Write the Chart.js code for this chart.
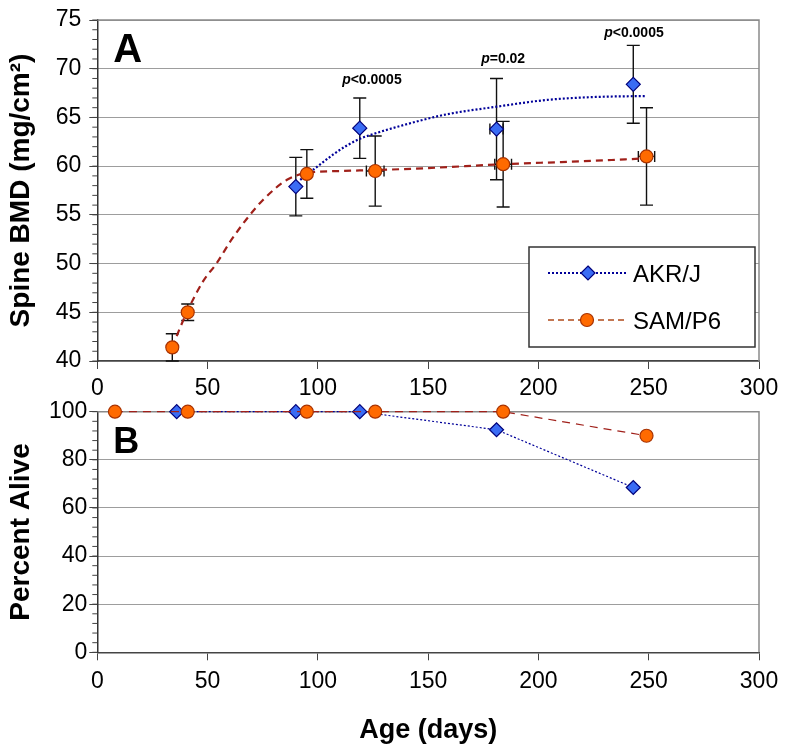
<!DOCTYPE html>
<html><head><meta charset="utf-8">
<script src="https://cdn.jsdelivr.net/npm/chart.js@4/dist/chart.umd.min.js"></script>
<style>
html,body{margin:0;padding:0;background:#fff;}
#cA{position:absolute;left:0;top:0;}
#cB{position:absolute;left:0;top:398px;}
</style></head><body>
<canvas id="cA" width="787" height="400" style="width:787px;height:400px"></canvas>
<canvas id="cB" width="787" height="352" style="width:787px;height:352px"></canvas>
<script>
// ---------- Panel A data ----------
const akrAgeA = [90, 119, 181, 243];
const akrBmd = [57.9, 63.9, 63.8, 68.4];
const akrBmdErr = [3.0, 3.1, 5.2, 4.0];
const akrAgeErr = [0, 0, 3, 0];
const samAgeA = [34, 41, 95, 126, 184, 249];
const samBmd = [41.4, 45.0, 59.2, 59.5, 60.2, 61.0];
const samBmdErr = [1.4, 0.85, 2.5, 3.6, 4.4, 5.0];
const samAgeErr = [0, 0, 0, 4, 3.8, 3.7];
const akrTrendAge = [92, 100, 107, 113, 119, 128, 137, 158, 181, 204, 226, 249];
const akrTrendBmd = [58.6, 60.0, 61.2, 62.1, 62.8, 63.5, 64.1, 65.3, 66.1, 66.8, 67.1, 67.2];
const samTrendAge = [34, 37.5, 41, 48, 54, 61, 68.5, 75, 86, 95, 110, 126, 150, 184, 220, 249];
const samTrendBmd = [41.4, 43.4, 45.2, 48.2, 50.0, 52.5, 54.8, 56.5, 58.6, 59.3, 59.5, 59.6, 59.8, 60.2, 60.5, 60.8];
const bmdTicks = [40, 45, 50, 55, 60, 65, 70, 75];
const pTexts = ["<0.0005", "=0.02", "<0.0005"];
const pAge = [124.5, 184, 243.3];
const pBmd = [68.8, 71.0, 73.7];
// ---------- Panel B data ----------
const akrAgeB = [36, 90, 119, 181, 243];
const akrAlive = [100, 100, 100, 92.5, 68.5];
const samAgeB = [8, 41, 95, 126, 184, 249];
const samAlive = [100, 100, 100, 100, 100, 90];
const aliveTicks = [0, 20, 40, 60, 80, 100];
const ageTicks = [0, 50, 100, 150, 200, 250, 300];
const seriesNames = ["AKR/J", "SAM/P6"];

const FONT = "'Liberation Sans', Arial, sans-serif";
const BLUE_LINE = '#000099', BLUE_FILL = '#3a6cf4', BLUE_EDGE = '#00007a';
const ORG_FILL = '#ff6a00', ORG_EDGE = '#a83200', RED_LINE = '#a0201a', ORG_LINE = '#b04a1a';

const pts = (xs, ys) => xs.map((x, i) => ({x: x, y: ys[i]}));

function drawDiamond(ctx, x, y, r) {
  ctx.beginPath();
  ctx.moveTo(x, y - r); ctx.lineTo(x + r, y); ctx.lineTo(x, y + r); ctx.lineTo(x - r, y); ctx.closePath();
  ctx.fillStyle = BLUE_FILL; ctx.fill();
  ctx.lineWidth = 1.2; ctx.strokeStyle = BLUE_EDGE; ctx.setLineDash([]); ctx.stroke();
}
function drawCircle(ctx, x, y, r) {
  ctx.beginPath(); ctx.arc(x, y, r, 0, Math.PI * 2);
  ctx.fillStyle = ORG_FILL; ctx.fill();
  ctx.lineWidth = 1.2; ctx.strokeStyle = ORG_EDGE; ctx.setLineDash([]); ctx.stroke();
}

function frameAndMinor(chart, minorStep) {
  const {ctx, chartArea: a, scales: {y}} = chart;
  ctx.save();
  ctx.setLineDash([]);
  ctx.strokeStyle = '#8a8a8a'; ctx.lineWidth = 1.5;
  ctx.beginPath(); ctx.moveTo(a.left, a.top); ctx.lineTo(a.right, a.top); ctx.lineTo(a.right, a.bottom); ctx.stroke();
  ctx.strokeStyle = '#444'; ctx.lineWidth = 1;
  for (let v = y.min; v <= y.max; v += minorStep) {
    const py = y.getPixelForValue(v);
    ctx.beginPath(); ctx.moveTo(a.left - 5, py); ctx.lineTo(a.left, py); ctx.stroke();
  }
  ctx.restore();
}

function errorBars(chart, xs, ys, yerr, xerr) {
  const {ctx, scales: {x, y}} = chart;
  ctx.save(); ctx.setLineDash([]); ctx.strokeStyle = '#111'; ctx.lineWidth = 1.4;
  for (let i = 0; i < xs.length; i++) {
    const px = x.getPixelForValue(xs[i]);
    if (yerr[i] > 0) {
      const t = y.getPixelForValue(ys[i] + yerr[i]), b = y.getPixelForValue(ys[i] - yerr[i]);
      ctx.beginPath();
      ctx.moveTo(px, t); ctx.lineTo(px, b);
      ctx.moveTo(px - 6.5, t); ctx.lineTo(px + 6.5, t);
      ctx.moveTo(px - 6.5, b); ctx.lineTo(px + 6.5, b);
      ctx.stroke();
    }
    if (xerr[i] > 0) {
      const py = y.getPixelForValue(ys[i]);
      const l = x.getPixelForValue(xs[i] - xerr[i]), r = x.getPixelForValue(xs[i] + xerr[i]);
      ctx.beginPath();
      ctx.moveTo(l, py); ctx.lineTo(r, py);
      ctx.moveTo(l, py - 5.5); ctx.lineTo(l, py + 5.5);
      ctx.moveTo(r, py - 5.5); ctx.lineTo(r, py + 5.5);
      ctx.stroke();
    }
  }
  ctx.restore();
}

const decorA = {
  id: 'decorA',
  beforeDatasetsDraw(chart) {
    frameAndMinor(chart, 1);
    errorBars(chart, akrAgeA, akrBmd, akrBmdErr, akrAgeErr);
    errorBars(chart, samAgeA, samBmd, samBmdErr, samAgeErr);
  },
  afterDatasetsDraw(chart) {
    const {ctx, chartArea: a, scales: {x, y}} = chart;
    ctx.save();
    ctx.fillStyle = '#000'; ctx.textBaseline = 'alphabetic'; ctx.textAlign = 'left';
    ctx.font = 'bold 40px ' + FONT;
    ctx.fillText('A', a.left + 16, a.top + 42);
    for (let i = 0; i < pTexts.length; i++) {
      const cx = x.getPixelForValue(pAge[i]), cy = y.getPixelForValue(pBmd[i]);
      ctx.font = 'italic bold 14px ' + FONT; const w1 = ctx.measureText('p').width;
      ctx.font = 'bold 14px ' + FONT; const w2 = ctx.measureText(pTexts[i]).width;
      const sx = cx - (w1 + w2) / 2;
      ctx.textBaseline = 'middle';
      ctx.font = 'italic bold 14px ' + FONT; ctx.fillText('p', sx, cy);
      ctx.font = 'bold 14px ' + FONT; ctx.fillText(pTexts[i], sx + w1, cy);
    }
    const lx = a.right - 230, ly = a.top + 227, lw = 226, lh = 100;
    ctx.fillStyle = '#fff'; ctx.fillRect(lx, ly, lw, lh);
    ctx.strokeStyle = '#333'; ctx.lineWidth = 1.5; ctx.setLineDash([]); ctx.strokeRect(lx, ly, lw, lh);
    const r1 = ly + 26, r2 = ly + 73;
    ctx.lineWidth = 2; ctx.strokeStyle = BLUE_LINE; ctx.setLineDash([2, 2]);
    ctx.beginPath(); ctx.moveTo(lx + 19, r1); ctx.lineTo(lx + 98, r1); ctx.stroke();
    drawDiamond(ctx, lx + 59, r1, 7);
    ctx.lineWidth = 1.6; ctx.strokeStyle = ORG_LINE; ctx.setLineDash([6, 4]);
    ctx.beginPath(); ctx.moveTo(lx + 19, r2); ctx.lineTo(lx + 98, r2); ctx.stroke();
    drawCircle(ctx, lx + 58, r2, 6.5);
    ctx.fillStyle = '#000'; ctx.font = '24px ' + FONT; ctx.textBaseline = 'middle'; ctx.textAlign = 'left';
    ctx.fillText(seriesNames[0], lx + 104, r1 + 2);
    ctx.fillText(seriesNames[1], lx + 104, r2 + 2);
    ctx.restore();
  }
};

const decorB = {
  id: 'decorB',
  beforeDatasetsDraw(chart) { frameAndMinor(chart, 4); },
  afterDatasetsDraw(chart) {
    const {ctx, chartArea: a} = chart;
    ctx.save();
    ctx.fillStyle = '#000'; ctx.textBaseline = 'alphabetic'; ctx.textAlign = 'left';
    ctx.font = 'bold 36px ' + FONT;
    ctx.fillText('B', a.left + 16, a.top + 41);
    ctx.restore();
  }
};

function xScale(height, pad, withTitle) {
  return {
    type: 'linear', min: 0, max: 300, position: 'bottom',
    afterBuildTicks: s => { s.ticks = ageTicks.map(v => ({value: v})); },
    ticks: {font: {size: 23, family: FONT}, color: '#000', padding: pad, maxRotation: 0, autoSkip: false},
    grid: {drawOnChartArea: false, drawTicks: true, tickLength: 8, tickColor: '#444', tickWidth: 1},
    border: {color: '#444', width: 1.5},
    title: withTitle ? {display: true, text: 'Age (days)', color: '#000', font: {size: 27, weight: 'bold', family: FONT}, padding: {top: 0, bottom: 0}} : {display: false},
    afterFit: s => { s.height = height; }
  };
}
function yScale(min, max, tickVals, pad, title) {
  return {
    type: 'linear', min: min, max: max,
    afterBuildTicks: s => { s.ticks = tickVals.map(v => ({value: v})); },
    ticks: {font: {size: 23, family: FONT, lineHeight: 1}, color: '#000', padding: pad},
    grid: {color: '#3a3a3a', lineWidth: 1, drawTicks: true, tickLength: 8, tickColor: '#444'},
    border: {color: '#333', width: 1.5, dash: [1, 1]},
    title: {display: true, text: title, color: '#000', font: {size: 28, weight: 'bold', family: FONT}, padding: {top: 4, bottom: 0}},
    afterFit: s => { s.width = 97.3; }
  };
}

new Chart(document.getElementById('cA'), {
  type: 'scatter',
  data: {datasets: [
    {label: seriesNames[1], data: pts(samAgeA, samBmd), showLine: false, pointStyle: 'circle', pointRadius: 6.5,
     backgroundColor: ORG_FILL, borderColor: ORG_EDGE, borderWidth: 1.2},
    {label: seriesNames[0], data: pts(akrAgeA, akrBmd), showLine: false, pointStyle: 'rectRot', pointRadius: 7,
     backgroundColor: BLUE_FILL, borderColor: BLUE_EDGE, borderWidth: 1.2},
    {label: 'SAM trend', data: pts(samTrendAge, samTrendBmd), showLine: true, pointRadius: 0, borderColor: RED_LINE,
     borderWidth: 2.2, borderDash: [7, 5], cubicInterpolationMode: 'monotone'},
    {label: 'AKR trend', data: pts(akrTrendAge, akrTrendBmd), showLine: true, pointRadius: 0, borderColor: BLUE_LINE,
     borderWidth: 2.2, borderDash: [2, 2], cubicInterpolationMode: 'monotone'}
  ]},
  options: {
    responsive: false, animation: false, devicePixelRatio: 1,
    layout: {padding: {left: 0, right: 28, top: 20, bottom: 0}},
    plugins: {legend: {display: false}, tooltip: {enabled: false}},
    scales: {x: xScale(39, 6, false), y: yScale(40, 75, bmdTicks, 8, 'Spine BMD (mg/cm\u00B2)')}
  },
  plugins: [decorA]
});

new Chart(document.getElementById('cB'), {
  type: 'scatter',
  data: {datasets: [
    {label: seriesNames[1], data: pts(samAgeB, samAlive), showLine: true, pointStyle: 'circle', pointRadius: 6.5,
     backgroundColor: ORG_FILL, borderColor: ORG_EDGE, borderWidth: 1.2, clip: false,
     segment: {borderColor: RED_LINE}, borderDash: [8, 6]},
    {label: seriesNames[0], data: pts(akrAgeB, akrAlive), showLine: true, pointStyle: 'rectRot', pointRadius: 7,
     backgroundColor: BLUE_FILL, borderColor: BLUE_EDGE, borderWidth: 1.2, clip: false,
     segment: {borderColor: BLUE_LINE}, borderDash: [2, 2]}
  ]},
  options: {
    responsive: false, animation: false, devicePixelRatio: 1,
    layout: {padding: {left: 0, right: 28, top: 13.7, bottom: 3}},
    plugins: {legend: {display: false}, tooltip: {enabled: false}},
    scales: {x: xScale(94.7, 8, true), y: yScale(0, 100, aliveTicks, 2, 'Percent Alive')}
  },
  plugins: [decorB]
});
</script>
</body></html>
